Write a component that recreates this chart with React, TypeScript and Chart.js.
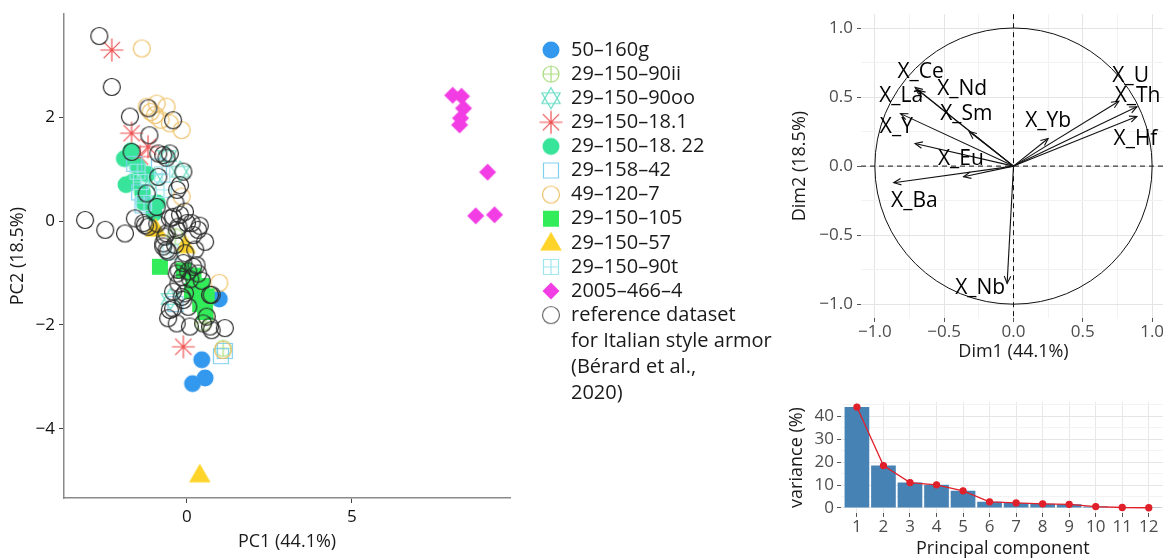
import React, { useEffect, useRef } from "react";
import { Chart, registerables } from "chart.js";
Chart.register(...registerables);

const FONT = "'Open Sans', 'Noto Sans', sans-serif";

// ---------------- PCA individuals (left scatter) ----------------
const groupNames = [
  "50–160g",
  "29–150–90ii",
  "29–150–90oo",
  "29–150–18.1",
  "29–150–18. 22",
  "29–158–42",
  "49–120–7",
  "29–150–105",
  "29–150–57",
  "29–150–90t",
  "2005–466–4",
  "reference dataset",
];
const referenceLegendLines = ["reference dataset", "for Italian style armor", "(Bérard et al.,", "2020)"];

const pts50_160g = [[0.98, -1.5], [0.45, -2.67], [0.55, -3.02], [0.17, -3.13]];
const pts90ii = [[0.58, -1.83], [0.5, -1.95], [1.1, -2.45], [-0.35, -0.3]];
const pts90oo = [[-0.6, 1.25], [-0.2, 0.95], [-1.0, 0.8], [-0.5, -1.5]];
const pts18_1 = [[-2.28, 3.29], [-1.68, 1.69], [-1.42, 1.24], [-1.18, 1.43], [-0.11, -2.42]];
const pts18_22 = [[-1.7, 1.35], [-1.9, 1.2], [-1.5, 1.05], [-1.65, 0.75], [-1.35, 0.55], [-1.3, 0.35], [-0.9, 0.35], [-1.0, 0.15], [-1.2, 0.9], [-1.85, 0.7]];
const pts158_42 = [[1.03, -2.6], [1.15, -2.5], [-1.6, 1.1], [-1.45, 0.55], [-1.35, 0.3], [-0.85, 1.05], [-0.35, -1.6]];
const pts49_120 = [[-1.37, 3.32], [-1.22, 2.2], [-0.92, 2.26], [-0.62, 2.2], [-0.97, 2.04], [-0.52, 1.88], [-0.16, 1.75], [-1.1, 2.1], [-0.16, 0.47], [0.98, -1.19], [1.09, -2.48], [-0.8, 1.95]];
const pts105 = [[-0.82, -0.88], [-0.1, -0.95], [0.2, -1.05], [0.45, -1.25], [0.6, -1.45], [0.4, -1.6], [0.15, -1.35], [0.55, -1.75]];
const pts57 = [[0.39, -4.88], [-0.95, -0.15], [-0.05, -0.47]];
const pts90t = [[-1.5, 0.95], [-1.4, 0.75], [-0.75, 0.9], [-1.3, 0.35], [-0.7, 0.6], [-0.5, -0.6]];
const pts2005 = [[8.06, 2.42], [8.33, 2.4], [8.39, 2.17], [8.3, 1.98], [8.27, 1.85], [9.12, 0.94], [8.76, 0.1], [9.33, 0.12]];
const ptsReference = [
  [-2.66, 3.56], [-2.28, 2.58], [-1.73, 2.01], [-1.17, 2.17], [-0.42, 1.94], [-1.14, 1.65], [-1.68, 1.33], [-0.87, 1.3],
  [-0.72, 1.27], [-0.52, 1.3], [-0.62, 1.22], [-0.11, 0.95], [-0.87, 0.85], [-0.21, 0.69], [-0.3, 0.6], [-1.22, 0.53],
  [-0.92, 0.27], [-1.58, 0.05], [-3.09, 0.02], [-2.48, -0.17], [-1.88, -0.24], [-1.32, -0.04], [-1.17, -0.11], [-0.42, 0.08],
  [-0.06, 0.18], [0.14, -0.04], [0.34, -0.17], [0.39, -0.09], [-0.26, -0.11], [-0.62, -0.24], [-0.72, -0.43], [0.55, -0.4],
  [-0.62, -0.56], [-0.36, -0.46], [0.19, -0.27], [-0.11, -0.81], [0.19, -0.88], [0.34, -1.01], [-0.31, -1.01], [0.04, -0.97],
  [-0.26, -1.2], [-0.06, -1.39], [-0.11, -1.52], [0.75, -1.42], [-0.42, -1.68], [-0.57, -1.87], [-0.31, -1.97], [0.09, -2.03],
  [0.6, -1.84], [0.75, -2.1], [1.15, -2.06], [0.49, -1.97], [0.04, -1.65], [-0.52, 0.05], [-0.21, 0.12], [0.0, -0.04],
  [-0.67, -0.3], [-0.31, -0.17], [-1.27, -0.08], [-0.72, -0.49], [-0.57, -0.59], [-0.26, -0.94], [0.29, -0.85], [-0.42, -1.36],
  [-0.16, -1.46], [0.7, -1.42], [-0.52, -1.71], [0.7, -2.03], [0.1, -1.12], [-0.15, -1.08], [0.45, -1.15], [-0.35, 0.35],
  [-0.05, -0.62], [0.25, -0.55], [-0.9, -0.05],
];
const groupPoints = [pts50_160g, pts90ii, pts90oo, pts18_1, pts18_22, pts158_42, pts49_120, pts105, pts57, pts90t, pts2005, ptsReference];
const groupSymbols = ["dot", "oplus", "hexagram", "asterisk", "dot", "openSquare", "openCircle", "filledSquare", "triangle", "boxplus", "diamond", "openCircle"];
const groupColors = ["#3399ee", "#a8dc7c", "#66dcc4", "#ef4f4f", "#38e49a", "#80cfee", "#efc168", "#33ec5a", "#ffd42a", "#9fe5ef", "#f23de4", "#2a2a2a"];

const scatterXTicks = [0, 5];
const scatterYTicks = [-4, -2, 0, 2];

// ---------------- Correlation circle ----------------
const varNames = ["X_Ce", "X_Nd", "X_La", "X_Sm", "X_Y", "X_Eu", "X_Ba", "X_Nb", "X_Yb", "X_U", "X_Th", "X_Hf"];
const varDim1 = [-0.71, -0.69, -0.815, -0.32, -0.71, -0.36, -0.864, -0.046, 0.25, 0.76, 0.89, 0.89];
const varDim2 = [0.57, 0.55, 0.38, 0.25, 0.164, -0.077, -0.12, -0.85, 0.2, 0.47, 0.43, 0.36];
const labelDim1 = [-0.67, -0.37, -0.81, -0.34, -0.845, -0.38, -0.715, -0.24, 0.25, 0.845, 0.895, 0.88];
const labelDim2 = [0.68, 0.56, 0.51, 0.38, 0.28, 0.05, -0.25, -0.88, 0.325, 0.65, 0.505, 0.195];
const corrMajorTicks = [-1, -0.5, 0, 0.5, 1];
const corrMinorTicks = [-0.75, -0.25, 0.25, 0.75];

// ---------------- Scree plot ----------------
const components = [1, 2, 3, 4, 5, 6, 7, 8, 9, 10, 11, 12];
const variancePct = [44.1, 18.5, 11.1, 10.1, 7.5, 2.7, 2.2, 1.8, 1.6, 0.6, 0.2, 0.1];
const screeMajorTicks = [0, 10, 20, 30, 40];
const screeMinorTicks = [5, 15, 25, 35, 45];

const minus = (s: string) => s.replace("-", "−");

function makeSymbol(kind: string, color: string): HTMLCanvasElement {
  const S = 28;
  const c = document.createElement("canvas");
  c.width = S;
  c.height = S;
  const ctx = c.getContext("2d")!;
  const m = S / 2;
  ctx.strokeStyle = color;
  ctx.fillStyle = color;
  ctx.lineWidth = 1.2;
  ctx.beginPath();
  if (kind === "dot") {
    ctx.arc(m, m, 8.5, 0, Math.PI * 2);
    ctx.fill();
  } else if (kind === "openCircle") {
    ctx.arc(m, m, 8.5, 0, Math.PI * 2);
    ctx.stroke();
  } else if (kind === "oplus") {
    ctx.arc(m, m, 8, 0, Math.PI * 2);
    ctx.moveTo(m - 8, m);
    ctx.lineTo(m + 8, m);
    ctx.moveTo(m, m - 8);
    ctx.lineTo(m, m + 8);
    ctx.stroke();
  } else if (kind === "hexagram") {
    const r = 10.5;
    for (const base of [-90, 90]) {
      for (let k = 0; k < 3; k++) {
        const a = ((base + k * 120) * Math.PI) / 180;
        const px = m + r * Math.cos(a);
        const py = m + r * Math.sin(a);
        if (k === 0) ctx.moveTo(px, py);
        else ctx.lineTo(px, py);
      }
      ctx.closePath();
    }
    ctx.stroke();
  } else if (kind === "asterisk") {
    const r = 11.5;
    for (let k = 0; k < 4; k++) {
      const a = (k * Math.PI) / 4;
      ctx.moveTo(m - r * Math.cos(a), m - r * Math.sin(a));
      ctx.lineTo(m + r * Math.cos(a), m + r * Math.sin(a));
    }
    ctx.stroke();
  } else if (kind === "openSquare") {
    ctx.rect(m - 7.5, m - 7.5, 15, 15);
    ctx.stroke();
  } else if (kind === "filledSquare") {
    ctx.rect(m - 8, m - 8, 16, 16);
    ctx.fill();
  } else if (kind === "boxplus") {
    ctx.rect(m - 7.5, m - 7.5, 15, 15);
    ctx.moveTo(m - 7.5, m);
    ctx.lineTo(m + 7.5, m);
    ctx.moveTo(m, m - 7.5);
    ctx.lineTo(m, m + 7.5);
    ctx.stroke();
  } else if (kind === "triangle") {
    const r = 12.5;
    for (let k = 0; k < 3; k++) {
      const a = ((-90 + k * 120) * Math.PI) / 180;
      const px = m + r * Math.cos(a);
      const py = m + 1.5 + r * Math.sin(a);
      if (k === 0) ctx.moveTo(px, py);
      else ctx.lineTo(px, py);
    }
    ctx.closePath();
    ctx.fill();
  } else if (kind === "diamond") {
    const r = 8.5;
    ctx.moveTo(m, m - r);
    ctx.lineTo(m + r, m);
    ctx.lineTo(m, m + r);
    ctx.lineTo(m - r, m);
    ctx.closePath();
    ctx.fill();
  }
  return c;
}

export default function App() {
  const scatterRef = useRef<HTMLCanvasElement>(null);
  const corrRef = useRef<HTMLCanvasElement>(null);
  const screeRef = useRef<HTMLCanvasElement>(null);

  useEffect(() => {
    const symbols = groupSymbols.map((k, i) => makeSymbol(k, groupColors[i]));
    const legendSymbols = groupSymbols.map((k, i) => makeSymbol(k, i === 11 ? "#6a6a6a" : groupColors[i]));

    // ---- scatter ----
    const order = groupNames.map((_, i) => i).reverse();
    const legendPlugin = {
      id: "customLegend",
      afterDraw(chart: any) {
        const ctx = chart.ctx as CanvasRenderingContext2D;
        ctx.save();
        ctx.font = `20px ${FONT}`;
        ctx.fillStyle = "#1a1a1a";
        ctx.textAlign = "left";
        ctx.textBaseline = "middle";
        groupNames.forEach((name, i) => {
          const y = 50 + i * 24.1;
          const sym = legendSymbols[i];
          ctx.drawImage(sym, 551 - sym.width / 2, y - sym.height / 2);
          const lines = i === 11 ? referenceLegendLines : [name];
          lines.forEach((ln, j) => ctx.fillText(ln, 571, y + j * 26.2));
        });
        ctx.restore();
      },
    };
    const scatter = new Chart(scatterRef.current!, {
      type: "scatter",
      data: {
        datasets: order.map((i) => ({
          label: groupNames[i],
          data: groupPoints[i].map(([x, y]) => ({ x, y })),
          pointStyle: symbols[i] as any,
          pointRadius: 9,
        })),
      },
      options: {
        animation: false,
        responsive: false,
        events: [],
        layout: { padding: { left: 0, right: 290, top: 14, bottom: 0 } },
        plugins: { legend: { display: false }, tooltip: { enabled: false } },
        scales: {
          x: {
            type: "linear",
            min: -3.73,
            max: 9.8,
            afterBuildTicks: (s: any) => {
              s.ticks = scatterXTicks.map((v) => ({ value: v }));
            },
            afterFit: (s: any) => {
              s.height = 60;
            },
            grid: { drawOnChartArea: false, drawTicks: true, tickLength: 5, tickColor: "#444" },
            border: { display: true, color: "#8a8a8a", width: 1.5 },
            ticks: { font: { size: 17, family: FONT }, color: "#111", padding: 4, callback: (v: any) => minus(String(v)) },
            title: { display: true, text: "PC1 (44.1%)", font: { size: 18, family: FONT }, color: "#1a1a1a", padding: { top: 0, bottom: 5 } },
          },
          y: {
            type: "linear",
            min: -5.33,
            max: 3.98,
            afterBuildTicks: (s: any) => {
              s.ticks = scatterYTicks.map((v) => ({ value: v }));
            },
            afterFit: (s: any) => {
              s.width = 64;
            },
            grid: { drawOnChartArea: false, drawTicks: true, tickLength: 5, tickColor: "#444" },
            border: { display: true, color: "#8a8a8a", width: 1.5 },
            ticks: { font: { size: 17, family: FONT }, color: "#111", padding: 4, callback: (v: any) => minus(String(v)) },
            title: { display: true, text: "PC2 (18.5%)", font: { size: 18, family: FONT }, color: "#1a1a1a", padding: { top: 7, bottom: 0 } },
          },
        },
      },
      plugins: [legendPlugin],
    });

    // ---- correlation circle ----
    const corrTicks = [...corrMajorTicks, ...corrMinorTicks].sort((a, b) => a - b);
    const isMajorCorr = (v: number) => corrMajorTicks.some((t) => Math.abs(t - v) < 1e-9);
    const circlePlugin = {
      id: "circle",
      beforeDatasetsDraw(chart: any) {
        const { ctx, chartArea: ca } = chart;
        const x = chart.scales.x;
        const y = chart.scales.y;
        const cx = x.getPixelForValue(0);
        const cy = y.getPixelForValue(0);
        const rx = x.getPixelForValue(1) - cx;
        const ry = cy - y.getPixelForValue(1);
        ctx.save();
        ctx.strokeStyle = "#111";
        ctx.lineWidth = 1;
        ctx.beginPath();
        ctx.ellipse(cx, cy, rx, ry, 0, 0, Math.PI * 2);
        ctx.stroke();
        ctx.setLineDash([5, 4]);
        ctx.beginPath();
        ctx.moveTo(ca.left, cy);
        ctx.lineTo(ca.right, cy);
        ctx.moveTo(cx, ca.top);
        ctx.lineTo(cx, ca.bottom);
        ctx.stroke();
        ctx.restore();
      },
      afterDatasetsDraw(chart: any) {
        const { ctx } = chart;
        const x = chart.scales.x;
        const y = chart.scales.y;
        const x0 = x.getPixelForValue(0);
        const y0 = y.getPixelForValue(0);
        ctx.save();
        ctx.strokeStyle = "#111";
        ctx.lineWidth = 1.1;
        varNames.forEach((_, i) => {
          const x1 = x.getPixelForValue(varDim1[i]);
          const y1 = y.getPixelForValue(varDim2[i]);
          const a = Math.atan2(y1 - y0, x1 - x0);
          const L = 8;
          const w = 0.42;
          ctx.beginPath();
          ctx.moveTo(x1 - L * Math.cos(a - w), y1 - L * Math.sin(a - w));
          ctx.lineTo(x1, y1);
          ctx.lineTo(x1 - L * Math.cos(a + w), y1 - L * Math.sin(a + w));
          ctx.stroke();
        });
        ctx.font = `21px ${FONT}`;
        ctx.fillStyle = "#000";
        ctx.textAlign = "center";
        ctx.textBaseline = "middle";
        varNames.forEach((n, i) => {
          ctx.fillText(n, x.getPixelForValue(labelDim1[i]), y.getPixelForValue(labelDim2[i]));
        });
        ctx.restore();
      },
    };
    const corrAxis = (title: string, isX: boolean) => ({
      type: "linear" as const,
      min: -1.1,
      max: 1.1,
      afterBuildTicks: (s: any) => {
        s.ticks = corrTicks.map((v) => ({ value: v }));
      },
      afterFit: (s: any) => {
        if (isX) s.height = 52;
        else s.width = 81;
      },
      grid: {
        drawTicks: true,
        tickLength: 4,
        color: (c: any) => (isMajorCorr(c.tick.value) ? "#e4e4e4" : "#f2f2f2"),
        lineWidth: 1,
        tickColor: (c: any) => (isMajorCorr(c.tick.value) ? "#555" : "rgba(0,0,0,0)"),
      },
      border: { display: false },
      ticks: {
        autoSkip: false,
        maxRotation: 0,
        font: { size: 17, family: FONT },
        color: "#4d4d4d",
        padding: isX ? 0 : 4,
        callback: (v: any) => (isMajorCorr(v) ? minus(Math.abs(v) < 1e-9 ? "0.0" : Number(v).toFixed(1)) : ""),
      },
      title: { display: true, text: title, font: { size: 18, family: FONT }, color: "#1a1a1a", padding: isX ? { top: 0, bottom: 7 } : { top: 9, bottom: 0 } },
    });
    const corr = new Chart(corrRef.current!, {
      type: "scatter",
      data: {
        datasets: varNames.map((n, i) => ({
          label: n,
          data: [
            { x: 0, y: 0 },
            { x: varDim1[i], y: varDim2[i] },
          ],
          showLine: true,
          borderColor: "#111",
          borderWidth: 1.1,
          pointRadius: 0,
        })),
      },
      options: {
        animation: false,
        responsive: false,
        events: [],
        layout: { padding: { left: 0, right: 4, top: 13, bottom: 0 } },
        plugins: { legend: { display: false }, tooltip: { enabled: false } },
        scales: { x: corrAxis("Dim1 (44.1%)", true) as any, y: corrAxis("Dim2 (18.5%)", false) as any },
      },
      plugins: [circlePlugin],
    });

    // ---- scree ----
    const screeTicks = [...screeMajorTicks, ...screeMinorTicks].sort((a, b) => a - b);
    const isMajorScree = (v: number) => screeMajorTicks.includes(v);
    const scree = new Chart(screeRef.current!, {
      type: "bar",
      data: {
        datasets: [
          {
            type: "line",
            data: components.map((c, i) => ({ x: c, y: variancePct[i] })),
            borderColor: "#e0202a",
            borderWidth: 1.3,
            pointRadius: 3,
            pointBackgroundColor: "#e0202a",
            pointBorderColor: "#e0202a",
            order: 0,
          } as any,
          {
            type: "bar",
            data: components.map((c, i) => ({ x: c, y: variancePct[i] })),
            backgroundColor: "#4682b4",
            borderWidth: 0,
            categoryPercentage: 1,
            barPercentage: 0.93,
            order: 1,
          },
        ],
      },
      options: {
        animation: false,
        responsive: false,
        events: [],
        layout: { padding: { left: 0, right: 4, top: 22, bottom: 0 } },
        plugins: { legend: { display: false }, tooltip: { enabled: false } },
        scales: {
          x: {
            type: "linear",
            offset: false,
            min: 0.4,
            max: 12.6,
            afterBuildTicks: (s: any) => {
              s.ticks = components.map((v) => ({ value: v }));
            },
            afterFit: (s: any) => {
              s.height = 45;
            },
            grid: { offset: false, drawTicks: true, tickLength: 4, color: "#e8e8e8", tickColor: "#555" },
            border: { display: false },
            ticks: { autoSkip: false, maxRotation: 0, minRotation: 0, font: { size: 17, family: FONT }, color: "#4d4d4d", padding: 0 },
            title: { display: true, text: "Principal component", font: { size: 18, family: FONT, lineHeight: 1 }, color: "#1a1a1a", padding: { top: 0, bottom: 0 } },
          },
          y: {
            type: "linear",
            min: -2.2,
            max: 46.3,
            afterBuildTicks: (s: any) => {
              s.ticks = screeTicks.map((v) => ({ value: v }));
            },
            afterFit: (s: any) => {
              s.width = 61;
            },
            grid: {
              drawTicks: true,
              tickLength: 4,
              color: (c: any) => (isMajorScree(c.tick.value) ? "#e6e6e6" : "#f3f3f3"),
              tickColor: (c: any) => (isMajorScree(c.tick.value) ? "#555" : "rgba(0,0,0,0)"),
            },
            border: { display: false },
            ticks: { autoSkip: false, font: { size: 17, family: FONT }, color: "#4d4d4d", padding: 3, callback: (v: any) => (isMajorScree(v) ? String(v) : "") },
            title: { display: true, text: "variance (%)", font: { size: 18, family: FONT }, color: "#1a1a1a", padding: { top: 6, bottom: 0 } },
          },
        },
      },
    });

    return () => {
      scatter.destroy();
      corr.destroy();
      scree.destroy();
    };
  }, []);

  return (
    <div style={{ position: "fixed", left: 0, top: 0, width: 1163, height: 558, overflow: "hidden", background: "#fff" }}>
      <canvas ref={scatterRef} width={800} height={558} style={{ position: "absolute", left: 0, top: 0, width: 800, height: 558 }} />
      <canvas ref={corrRef} width={390} height={370} style={{ position: "absolute", left: 780, top: 0, width: 390, height: 370 }} />
      <canvas ref={screeRef} width={390} height={178} style={{ position: "absolute", left: 780, top: 380, width: 390, height: 178 }} />
    </div>
  );
}
